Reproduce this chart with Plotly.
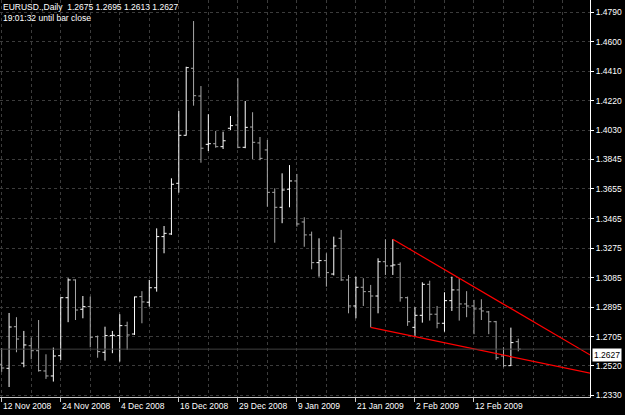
import plotly.graph_objects as go

# ---- data ----
bar_index = list(range(71))  # trading days 12 Nov 2008 .. 20 Feb 2009
opens = [1.2530, 1.2504, 1.2771, 1.2537, 1.2649, 1.2617, 1.2487, 1.2455, 1.2585, 1.2957,
         1.3071, 1.2883, 1.2900, 1.2707, 1.2607, 1.2714, 1.2714, 1.2778, 1.2724, 1.2964,
         1.2928, 1.3021, 1.3349, 1.3366, 1.3691, 1.3999, 1.4429, 1.4251, 1.3941, 1.3945,
         1.3926, 1.4044, 1.4065, 1.3922, 1.4052, 1.3950, 1.3905, 1.3633, 1.3537, 1.3653,
         1.3706, 1.3443, 1.3360, 1.3182, 1.3195, 1.3109, 1.3338, 1.3071, 1.2904, 1.3024,
         1.2996, 1.2968, 1.3188, 1.3161, 1.3171, 1.2957, 1.2767, 1.2844, 1.3043, 1.2851,
         1.2793, 1.2938, 1.3007, 1.2917, 1.2904, 1.2885, 1.2866, 1.2803, 1.2583, 1.2521,
         1.2675]
highs = [1.2634, 1.2859, 1.2832, 1.2744, 1.2701, 1.2814, 1.2594, 1.2637, 1.2960, 1.3082,
         1.3075, 1.2968, 1.2964, 1.2714, 1.2771, 1.2744, 1.2851, 1.2803, 1.2964, 1.2999,
         1.3071, 1.3402, 1.3417, 1.3723, 1.4155, 1.4439, 1.4732, 1.4315, 1.4134, 1.4027,
         1.4022, 1.4123, 1.4365, 1.4219, 1.4147, 1.3988, 1.3969, 1.3659, 1.3755, 1.3808,
         1.3751, 1.3473, 1.3381, 1.3338, 1.3242, 1.3349, 1.3392, 1.3103, 1.3092, 1.3082,
         1.3039, 1.3210, 1.3332, 1.3332, 1.3184, 1.2964, 1.2896, 1.3056, 1.3066, 1.2904,
         1.2992, 1.3092, 1.3082, 1.2999, 1.2943, 1.2947, 1.2872, 1.2808, 1.2639, 1.2765,
         1.2695]
lows = [1.2481, 1.2384, 1.2607, 1.2511, 1.2562, 1.2483, 1.2436, 1.2419, 1.2557, 1.2800,
        1.2814, 1.2825, 1.2639, 1.2572, 1.2553, 1.2601, 1.2547, 1.2622, 1.2718, 1.2793,
        1.2900, 1.2996, 1.3242, 1.3360, 1.3631, 1.3997, 1.4189, 1.3823, 1.3898, 1.3919,
        1.3911, 1.4033, 1.3916, 1.3916, 1.3847, 1.3839, 1.3541, 1.3310, 1.3435, 1.3537,
        1.3413, 1.3284, 1.3139, 1.3092, 1.3028, 1.3100, 1.3065, 1.2857, 1.2825, 1.2904,
        1.2767, 1.2857, 1.3103, 1.3103, 1.2932, 1.2776, 1.2712, 1.2797, 1.2810, 1.2761,
        1.2739, 1.2872, 1.2810, 1.2832, 1.2723, 1.2814, 1.2723, 1.2558, 1.2511, 1.2519,
        1.2613]
closes = [1.2506, 1.2769, 1.2692, 1.2654, 1.2617, 1.2489, 1.2455, 1.2583, 1.2957, 1.3071,
          1.2878, 1.2900, 1.2703, 1.2611, 1.2714, 1.2716, 1.2778, 1.2718, 1.2962, 1.2930,
          1.3021, 1.3349, 1.3370, 1.3685, 1.3999, 1.4433, 1.4253, 1.3916, 1.3945, 1.3926,
          1.3964, 1.4061, 1.3922, 1.4050, 1.3954, 1.3851, 1.3633, 1.3537, 1.3648, 1.3706,
          1.3430, 1.3360, 1.3182, 1.3195, 1.3118, 1.3289, 1.3071, 1.2904, 1.3024, 1.2996,
          1.2968, 1.3188, 1.3161, 1.3167, 1.2957, 1.2803, 1.2844, 1.3043, 1.2851, 1.2793,
          1.2938, 1.3007, 1.2917, 1.2904, 1.2885, 1.2872, 1.2803, 1.2572, 1.2521, 1.2669,
          1.2627]

date_tick_pos = [0, 8, 16, 24, 32, 40, 48, 56, 64]
date_tick_text = ["12 Nov 2008", "24 Nov 2008", "4 Dec 2008", "16 Dec 2008", "29 Dec 2008",
                  "9 Jan 2009", "21 Jan 2009", "2 Feb 2009", "12 Feb 2009"]
grid_minor_pos = [4, 12, 20, 28, 36, 44, 52, 60, 68, 72, 76]

price_ticks = [1.2330, 1.2520, 1.2705, 1.2895, 1.3085, 1.3275, 1.3465, 1.3655,
               1.3845, 1.4030, 1.4220, 1.4410, 1.4600, 1.4790]

upper_line_x = [53, 79.8]
upper_line_y = [1.3332, 1.2588]
lower_line_x = [50, 79.8]
lower_line_y = [1.2767, 1.2472]

bid_price = 1.2627
header_line1 = "EURUSD.,Daily  1.2675 1.2695 1.2613 1.2627"
header_line2 = "19:01:32 until bar close"

FONT = "Liberation Sans"
GRID = "#3c3c3c"

fig = go.Figure()

fig.add_trace(go.Ohlc(
    x=bar_index, open=opens, high=highs, low=lows, close=closes,
    increasing=dict(line=dict(color="#ffffff", width=1)),
    decreasing=dict(line=dict(color="#a8a8a8", width=1)),
    tickwidth=0.35, hoverinfo="skip", showlegend=False,
))

fig.add_trace(go.Scatter(x=upper_line_x, y=upper_line_y, mode="lines",
                         line=dict(color="#ff0000", width=1.2),
                         hoverinfo="skip", showlegend=False))
fig.add_trace(go.Scatter(x=lower_line_x, y=lower_line_y, mode="lines",
                         line=dict(color="#ff0000", width=1.2),
                         hoverinfo="skip", showlegend=False))

# bid line
fig.add_hline(y=bid_price, line=dict(color="#404040", width=1))

fig.update_layout(
    width=625, height=415,
    margin=dict(l=0, r=35, t=0, b=18),
    paper_bgcolor="#000000", plot_bgcolor="#000000",
    font=dict(family=FONT, size=8.5, color="#ffffff"),
    showlegend=False,
    xaxis=dict(
        range=[-0.23, 79.72], rangeslider=dict(visible=False),
        tickmode="array", tickvals=date_tick_pos, ticktext=[""] * len(date_tick_pos),
        showticklabels=False,
        ticks="outside", ticklen=4, tickcolor="#c8c8c8", tickwidth=1,
        showgrid=True, gridcolor=GRID, griddash="3px,3px", gridwidth=1,
        minor=dict(tickmode="array", tickvals=grid_minor_pos, showgrid=True,
                   gridcolor=GRID, griddash="3px,3px", gridwidth=1, ticks=""),
        showline=True, linecolor="#c8c8c8", linewidth=1,
        zeroline=False, fixedrange=True,
    ),
    yaxis=dict(
        range=[1.2320, 1.4867], side="right",
        tickmode="array", tickvals=price_ticks,
        ticktext=[f"{v:.4f}" for v in price_ticks],
        ticks="outside", ticklen=3, tickcolor="#ffffff", tickwidth=1,
        tickfont=dict(family=FONT, size=8.5, color="#ffffff"),
        showgrid=True, gridcolor=GRID, griddash="3px,3px", gridwidth=1,
        showline=True, linecolor="#ffffff", linewidth=1,
        zeroline=False, fixedrange=True,
    ),
)

annotations = []
for pos, txt in zip(date_tick_pos, date_tick_text):
    annotations.append(dict(x=pos, y=0, xref="x", yref="paper", text=txt,
                            showarrow=False, xanchor="left", yanchor="top",
                            yshift=-2, xshift=-1,
                            font=dict(family=FONT, size=8.5, color="#ffffff")))
annotations.append(dict(x=0, y=1, xref="paper", yref="paper", text=header_line1,
                        showarrow=False, xanchor="left", yanchor="top", xshift=1, yshift=0,
                        font=dict(family=FONT, size=8.5, color="#ffffff")))
annotations.append(dict(x=0, y=1, xref="paper", yref="paper", text=header_line2,
                        showarrow=False, xanchor="left", yanchor="top", xshift=1, yshift=-11,
                        font=dict(family=FONT, size=8.5, color="#ffffff")))
annotations.append(dict(x=1, y=bid_price, xref="paper", yref="y", text=f"{bid_price:.4f}",
                        showarrow=False, xanchor="left", yanchor="middle", xshift=2, yshift=-6,
                        bgcolor="#ffffff", borderpad=1,
                        font=dict(family=FONT, size=8.5, color="#000000")))
fig.update_layout(annotations=annotations)

fig.write_html("out.html")
